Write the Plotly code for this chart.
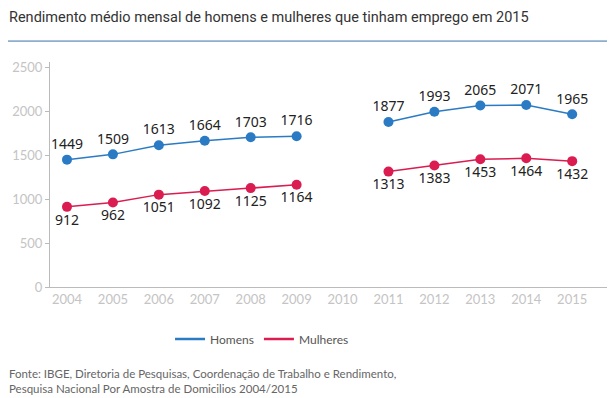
import plotly.graph_objects as go

years = [2004, 2005, 2006, 2007, 2008, 2009, 2010, 2011, 2012, 2013, 2014, 2015]
homens = [1449, 1509, 1613, 1664, 1703, 1716, None, 1877, 1993, 2065, 2071, 1965]
mulheres = [912, 962, 1051, 1092, 1125, 1164, None, 1313, 1383, 1453, 1464, 1432]
title_text = "Rendimento médio mensal de homens e mulheres que tinham emprego em 2015"
source_text = ("Fonte: IBGE, Diretoria de Pesquisas, Coordenação de Trabalho e Rendimento,<br>"
               "Pesquisa Nacional Por Amostra de Domicilios 2004/2015")

blue = "#2a7bc4"
red = "#da1c50"

def labels(vals):
    return ["" if v is None else str(v) for v in vals]

fig = go.Figure()
for name, vals, color, pos in [("Homens", homens, blue, "top center"),
                               ("Mulheres", mulheres, red, "bottom center")]:
    fig.add_trace(go.Scatter(
        x=years, y=vals, name=name, mode="lines+markers+text",
        line=dict(color=color, width=1.5), marker=dict(color=color, size=10),
        text=labels(vals), textposition=pos,
        textfont=dict(family="Noto Sans", size=14, color="#222"),
        connectgaps=False, showlegend=False,
    ))
for name, color in [("Homens", blue), ("Mulheres", red)]:
    fig.add_trace(go.Scatter(x=[None], y=[None], name=name, mode="lines",
                             line=dict(color=color, width=2.5), showlegend=True))

fig.update_layout(
    width=615, height=398,
    margin=dict(l=42, r=15, t=54, b=119, autoexpand=False),
    paper_bgcolor="white", plot_bgcolor="white",
    font=dict(family="Lato", color="#c4c4c4"),
    legend=dict(orientation="h", x=0.38, xanchor="center", y=-0.231, yanchor="middle",
                font=dict(family="Lato", size=12, color="#555"),
                traceorder="normal"),
    xaxis=dict(range=[2003.63, 2015.78], tickmode="array", tickvals=years,
               ticktext=[str(y) for y in years], showgrid=False, zeroline=False,
               showline=True, linecolor="#bbb", linewidth=1, ticks="", automargin=False,
               tickfont=dict(family="Lato", size=13, color="#c4c4c4")),
    yaxis=dict(range=[0, 2560], tickvals=[0, 500, 1000, 1500, 2000, 2500],
               showgrid=False, zeroline=False, showline=True, linecolor="#bbb",
               linewidth=1, ticks="outside", ticklen=4, tickcolor="#bbb", automargin=False,
               tickfont=dict(family="Lato", size=13, color="#c4c4c4")),
)

fig.add_annotation(text=title_text, xref="paper", yref="paper", x=-0.0775, y=1.2,
                   xanchor="left", yanchor="middle", showarrow=False,
                   font=dict(family="Roboto", size=14.5, color="#333"))
fig.add_shape(type="line", xref="paper", yref="paper", x0=-0.0753, x1=1.0, y0=1.093, y1=1.093,
              line=dict(color="#3a6fa8", width=1))
fig.add_annotation(text=source_text, xref="paper", yref="paper", x=-0.0775, y=-0.345,
                   xanchor="left", yanchor="top", align="left", showarrow=False,
                   font=dict(family="Lato", size=11.5, color="#666"))

fig.write_html("out.html")
